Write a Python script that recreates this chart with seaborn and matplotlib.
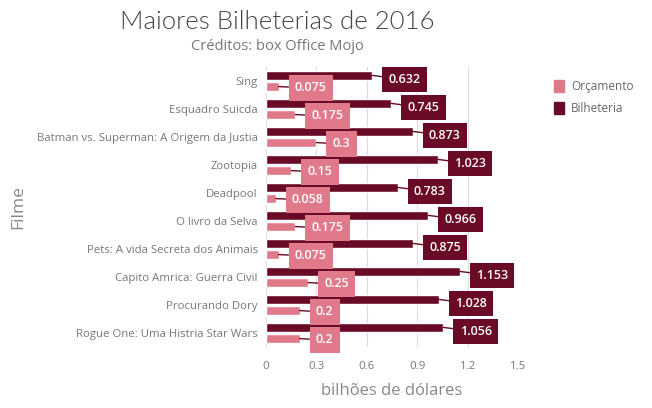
import pandas as pd
import numpy as np
import matplotlib
matplotlib.use("Agg")
import matplotlib.pyplot as plt
import seaborn as sns
from matplotlib.patches import Patch

# dados (bilhoes de dolares)
filmes = ["Sing", "Esquadro Suicda", "Batman vs. Superman: A Origem da Justia",
          "Zootopia", "Deadpool", "O livro da Selva", "Pets: A vida Secreta dos Animais",
          "Capito Amrica: Guerra Civil", "Procurando Dory", "Rogue One: Uma Histria Star Wars"]
bilheteria = [0.632, 0.745, 0.873, 1.023, 0.783, 0.966, 0.875, 1.153, 1.028, 1.056]
orcamento = [0.075, 0.175, 0.3, 0.15, 0.058, 0.175, 0.075, 0.25, 0.2, 0.2]
ticks = [0, 0.3, 0.6, 0.9, 1.2, 1.5]

cor_orc = "#e07a8b"
cor_bil = "#690a26"

data = pd.DataFrame({
    "Filme": filmes * 2,
    "valor": bilheteria + orcamento,
    "tipo": ["Bilheteria"] * len(filmes) + ["Orçamento"] * len(filmes),
})

sns.set_style("white")
plt.rcParams['font.family'] = ['Open Sans', 'DejaVu Sans']

fig = plt.figure(figsize=(6.52, 4.08), dpi=100)
ax = fig.add_axes([266 / 652, 1 - 347 / 408, 252 / 652, 280 / 408])

sns.barplot(data=data, y="Filme", x="valor", hue="tipo", hue_order=["Bilheteria", "Orçamento"],
            palette={"Bilheteria": cor_bil, "Orçamento": cor_orc}, orient="h",
            width=0.8, gap=0.25, ax=ax, legend=False, saturation=1, errorbar=None)

ax.set_xlim(0, 1.5)
ax.set_ylim(9.5, -0.5)
ax.set_xticks(ticks)
ax.set_xticklabels([str(t) for t in ticks])
ax.grid(axis="x", color="#dddddd", lw=0.8)
ax.set_axisbelow(True)
for s in ax.spines.values():
    s.set_visible(False)
ax.tick_params(axis="y", length=0, colors="#777777", labelsize=8.2, pad=6)
ax.tick_params(axis="x", length=0, colors="#777777", labelsize=8.2, pad=10)

ax.set_xlabel("bilhões de dólares", fontsize=12, color="#888888", labelpad=8)
ax.set_ylabel("Filme", fontsize=12.5, color="#888888")
ax.yaxis.set_label_coords(-(266 - 26) / 252, 0.5)

# rotulos com caixa
for cont, cor, dy in zip(ax.containers, [cor_bil, cor_orc], [-3, -1]):
    for bar in cont:
        w = bar.get_width()
        yc = bar.get_y() + bar.get_height() / 2
        ax.annotate(f"{w:g}", xy=(w, yc), xytext=(11.7, dy), textcoords="offset points",
                    ha="left", va="center", color="white", fontsize=9, fontweight="semibold",
                    bbox=dict(boxstyle="square,pad=0.5", fc=cor, ec="none"),
                    arrowprops=dict(arrowstyle="-", color=cor_bil, lw=1, shrinkA=0, shrinkB=0),
                    annotation_clip=False)

fig.text(277 / 652, 1 - 22 / 408, "Maiores Bilheterias de 2016", ha="center", va="center",
         fontsize=18.5, fontweight=300, color="#444444", family=["Lato", "DejaVu Sans"])
fig.text(277 / 652, 1 - 46 / 408, "Créditos: box Office Mojo", ha="center", va="center",
         fontsize=10.5, color="#777777")

handles = [Patch(color=cor_orc, label="Orçamento"), Patch(color=cor_bil, label="Bilheteria")]
fig.legend(handles=handles, loc="upper left", bbox_to_anchor=(543 / 652, 1 - 69 / 408),
           frameon=False, fontsize=8.5, labelcolor="#666666", handlelength=0.9, handleheight=1.2,
           handletextpad=0.6, labelspacing=0.8)

fig.savefig("out.png", dpi=100)
